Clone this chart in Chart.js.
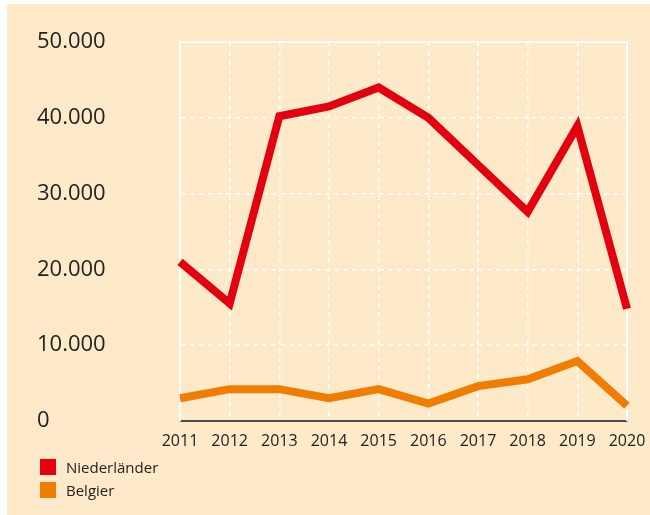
<!DOCTYPE html>
<html>
<head>
<meta charset="utf-8">
<script src="https://cdn.jsdelivr.net/npm/chart.js@4/dist/chart.umd.min.js"></script>
<style>
  body { margin: 0; background: #ffffff; }
  #wrap { position: relative; width: 650px; height: 515px; }
  #legend { position: absolute; left: 40px; top: 455px; font-family: "Open Sans", sans-serif; font-size: 15px; color: #222; }
  .item { display: flex; align-items: center; height: 23px; }
  .box { width: 16px; height: 16px; margin-right: 10px; }
</style>
</head>
<body>
<div id="wrap">
  <canvas id="chart" width="650" height="515"></canvas>
  <div id="legend"></div>
</div>
<script>
// Data
const years = ['2011', '2012', '2013', '2014', '2015', '2016', '2017', '2018', '2019', '2020'];
const niederlaender = [21000, 15500, 40200, 41500, 44000, 40000, 33800, 27600, 38900, 14800];
const belgier = [3000, 4200, 4200, 3000, 4200, 2300, 4600, 5500, 7900, 2000];
const seriesLabels = ['Niederländer', 'Belgier'];
const seriesColors = ['#e3000f', '#ef7d00'];

// Thousands with a dot, like 50.000
function formatNumber(v) {
    return String(v).replace(/\B(?=(\d{3})+(?!\d))/g, '.');
}

// Peach panel behind everything, solid white frame on top/right
const panel = {
    id: 'panel',
    beforeDraw(chart) {
        const ctx = chart.ctx;
        ctx.save();
        ctx.fillStyle = '#ffffff';
        ctx.fillRect(0, 0, chart.width, chart.height);
        ctx.fillStyle = '#fee9c9';
        ctx.fillRect(7, 4, chart.width - 7, chart.height - 4);
        ctx.restore();
    },
    beforeDatasetsDraw(chart) {
        const a = chart.chartArea;
        const ctx = chart.ctx;
        ctx.save();
        ctx.strokeStyle = '#ffffff';
        ctx.lineWidth = 2;
        ctx.beginPath();
        ctx.moveTo(a.left, a.top);
        ctx.lineTo(a.right, a.top);
        ctx.lineTo(a.right, a.bottom);
        ctx.stroke();
        ctx.restore();
    }
};

const chart = new Chart(document.getElementById('chart'), {
    type: 'line',
    plugins: [panel],
    data: {
        labels: years,
        datasets: [
            {
                label: seriesLabels[0],
                data: niederlaender,
                borderColor: seriesColors[0],
                backgroundColor: seriesColors[0]
            },
            {
                label: seriesLabels[1],
                data: belgier,
                borderColor: seriesColors[1],
                backgroundColor: seriesColors[1]
            }
        ]
    },
    options: {
        responsive: false,
        animation: false,
        layout: {
            padding: { left: 37, right: 23, top: 42, bottom: 0 }
        },
        elements: {
            line: { borderWidth: 8, tension: 0, borderJoinStyle: 'miter', borderCapStyle: 'butt' },
            point: { radius: 0 }
        },
        plugins: {
            legend: { display: false },
            tooltip: { enabled: false }
        },
        scales: {
            x: {
                offset: false,
                grid: { color: '#ffffff', lineWidth: 1.5, drawTicks: false, offset: false },
                border: { color: '#4d4d4d', width: 2, dash: [5, 4] },
                ticks: {
                    color: '#222222',
                    padding: 11,
                    maxRotation: 0,
                    autoSkip: false,
                    font: { family: 'Open Sans', size: 16 }
                },
                afterFit(scale) {
                    scale.height = 94;
                    scale.paddingLeft = 0;
                    scale.paddingRight = 0;
                }
            },
            y: {
                min: 0,
                max: 50000,
                grid: { color: '#ffffff', lineWidth: 1.5, drawTicks: false },
                border: { color: '#ffffff', width: 2, dash: [5, 4] },
                ticks: {
                    stepSize: 10000,
                    color: '#222222',
                    crossAlign: 'far',
                    font: { family: 'Open Sans', size: 22 },
                    callback: v => formatNumber(v)
                },
                afterFit(scale) {
                    scale.width = 143;
                    scale.paddingTop = 0;
                    scale.paddingBottom = 0;
                }
            }
        }
    }
});

// Vertical legend under the chart
const legend = document.getElementById('legend');
chart.data.datasets.forEach(ds => {
    const item = document.createElement('div');
    item.className = 'item';
    item.innerHTML = '<span class="box" style="background:' + ds.borderColor + '"></span>' + ds.label;
    legend.appendChild(item);
});
</script>
</body>
</html>
